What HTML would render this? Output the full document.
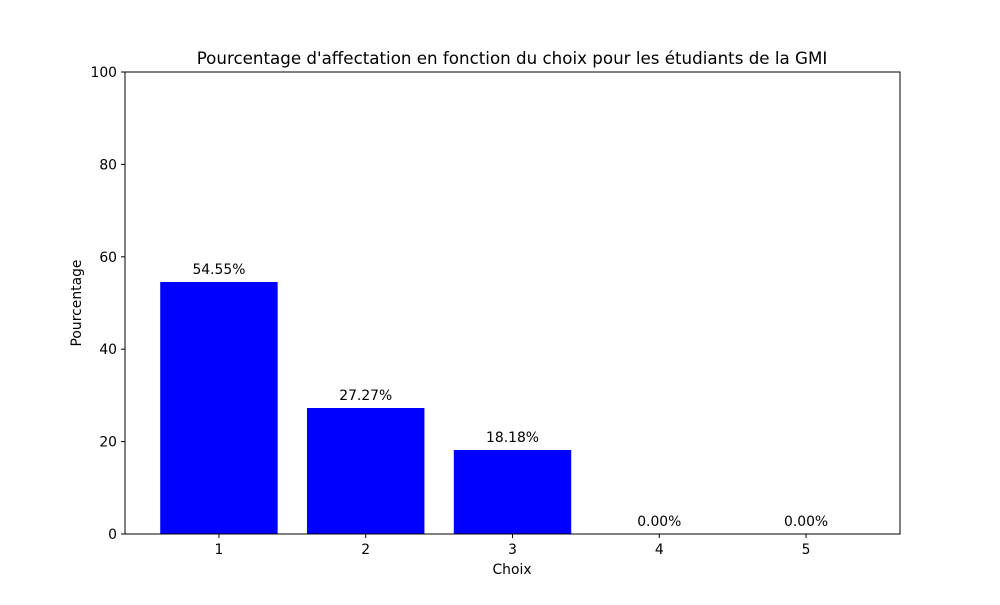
<!DOCTYPE html>
<html><head><meta charset="utf-8"><style>body{margin:0;background:#fff}svg{font-family:"DejaVu Sans","Liberation Sans",sans-serif}</style></head>
<body>
<svg width="1000" height="600" xmlns="http://www.w3.org/2000/svg">
<rect width="1000" height="600" fill="#fff"/>
<text x="512" y="64" font-size="16.7" text-anchor="middle">Pourcentage d'affectation en fonction du choix pour les étudiants de la GMI</text>
<g id="bars"></g><g id="ticks"></g>
<rect x="125" y="72" width="775" height="462" fill="none" stroke="#000" stroke-width="1"/>
<text x="512" y="574" font-size="13.9" text-anchor="middle">Choix</text>
<text transform="translate(81,303) rotate(-90)" font-size="13.9" text-anchor="middle">Pourcentage</text>
</svg>
<script>
const categories=["1","2","3","4","5"];
const values=[54.55,27.27,18.18,0,0];
const yTicks=[0,20,40,60,80,100];
const L=125,R=900,T=72,B=534;
const xmin=0.36,xmax=5.64;
function xs(v){return L+(v-xmin)/(xmax-xmin)*(R-L);}
function ys(v){return B-v/100*(B-T);}
const NS="http://www.w3.org/2000/svg";
const bars=document.getElementById('bars'),ticks=document.getElementById('ticks');
function mk(tag,attrs,parent,txt){const e=document.createElementNS(NS,tag);for(const k in attrs)e.setAttribute(k,attrs[k]);if(txt!==undefined)e.textContent=txt;parent.appendChild(e);return e;}
categories.forEach((c,i)=>{
 const cx=xs(i+1),w=xs(1.4)-xs(0.6);
 const r=mk('rect',{x:cx-w/2,y:ys(values[i]),width:w,height:B-ys(values[i]),fill:'#0000ff'},bars);
 
 
 const t=mk('text',{x:cx,y:ys(values[i])-8,'font-size':13.9,'text-anchor':'middle'},bars,values[i].toFixed(2)+'%');
 
 
 mk('line',{x1:cx,x2:cx,y1:B,y2:B+4,stroke:'#000'},ticks);
 const tl=mk('text',{x:cx,y:B+20,'font-size':13.9,'text-anchor':'middle'},ticks,c);
 
 
});
yTicks.forEach(v=>{
 const y=ys(v);
 mk('line',{x1:L-4,x2:L,y1:y,y2:y,stroke:'#000'},ticks);
 const tl=mk('text',{x:L-8,y:y+5,'font-size':13.9,'text-anchor':'end'},ticks,String(v));
 
 
});
</script>
</body></html>
